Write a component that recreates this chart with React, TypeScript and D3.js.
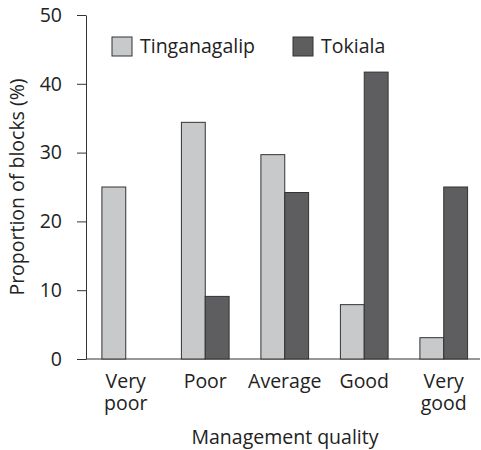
import React, { useEffect, useRef } from 'react';
import { axisLeft, scaleBand, scaleLinear, select } from 'd3';

const categories = ['Very poor', 'Poor', 'Average', 'Good', 'Very good'];
const seriesNames = ['Tinganagalip', 'Tokiala'];
const tinganagalip = [25, 34.4, 29.7, 7.9, 3.1];
const tokiala = [0, 9.1, 24.2, 41.7, 25];
const yTicks = [0, 10, 20, 30, 40, 50];

const colors = ['#c8c9cb', '#5e5e60'];
const font = '"Open Sans", sans-serif';
const fontSize = '19.5px';

const App = () => {
  const svgRef = useRef(null);

  useEffect(() => {
    const svg: any = select(svgRef.current);
    svg.selectAll('*').remove();

    const x = scaleBand().domain(categories).range([86, 483.5]).paddingInner(0.4).paddingOuter(0.2);
    const x1 = scaleBand().domain(seriesNames).range([0, x.bandwidth()]);
    const y = scaleLinear().domain([0, 50]).range([359, 15]);

    // y axis
    const yAxis = axisLeft(y).tickValues(yTicks).tickSize(9).tickSizeOuter(0).tickPadding(15);
    const gy = svg.append('g').attr('transform', 'translate(86,0)').call(yAxis);
    gy.select('.domain').attr('stroke', '#333');
    gy.selectAll('.tick line').attr('stroke', '#333');
    gy.selectAll('.tick text')
      .attr('fill', '#222')
      .style('font-family', font)
      .style('font-size', fontSize);

    // baseline
    svg
      .append('line')
      .attr('x1', 86)
      .attr('x2', 480)
      .attr('y1', y(0))
      .attr('y2', y(0))
      .attr('stroke', '#333');

    const data = [tinganagalip, tokiala];
    data.forEach((vals, si) => {
      svg
        .append('g')
        .selectAll('rect')
        .data(vals)
        .join('rect')
        .attr('x', (_: number, i: number) => (x(categories[i]) as number) + (x1(seriesNames[si]) as number))
        .attr('y', (v: number) => y(v))
        .attr('width', x1.bandwidth())
        .attr('height', (v: number) => y(0) - y(v))
        .attr('fill', colors[si])
        .attr('stroke', '#333')
        .attr('stroke-width', 1);
    });

    // category labels
    const labels = svg
      .append('g')
      .selectAll('text')
      .data(categories)
      .join('text')
      .attr('x', (d: string) => (x(d) as number) + x.bandwidth() / 2)
      .attr('y', 388)
      .attr('text-anchor', 'middle')
      .attr('fill', '#222')
      .style('font-family', font)
      .style('font-size', fontSize);
    labels.each(function (this: any, d: string) {
      const parts = d.split(' ');
      const t = select(this);
      parts.forEach((p, i) => {
        t.append('tspan')
          .attr('x', t.attr('x'))
          .attr('dy', i === 0 ? 0 : 22)
          .text(p);
      });
    });

    // axis titles
    svg
      .append('text')
      .attr('x', 285)
      .attr('y', 444)
      .attr('text-anchor', 'middle')
      .attr('fill', '#222')
      .style('font-family', font)
      .style('font-size', fontSize)
      .text('Management quality');
    svg
      .append('text')
      .attr('transform', 'translate(24,187) rotate(-90)')
      .attr('text-anchor', 'middle')
      .attr('fill', '#222')
      .style('font-family', font)
      .style('font-size', fontSize)
      .text('Proportion of blocks (%)');

    // legend
    const legendX = [112, 293];
    seriesNames.forEach((name, i) => {
      svg
        .append('rect')
        .attr('x', legendX[i])
        .attr('y', 37)
        .attr('width', 20)
        .attr('height', 19)
        .attr('fill', colors[i])
        .attr('stroke', '#333');
      svg
        .append('text')
        .attr('x', legendX[i] + 28)
        .attr('y', 53)
        .attr('fill', '#222')
        .style('font-family', font)
        .style('font-size', fontSize)
        .text(name);
    });
  }, []);

  return (
    <svg
      ref={svgRef}
      width={481}
      height={450}
      style={{ position: 'absolute', left: 0, top: 0, background: '#fff' }}
    />
  );
};

export default App;
